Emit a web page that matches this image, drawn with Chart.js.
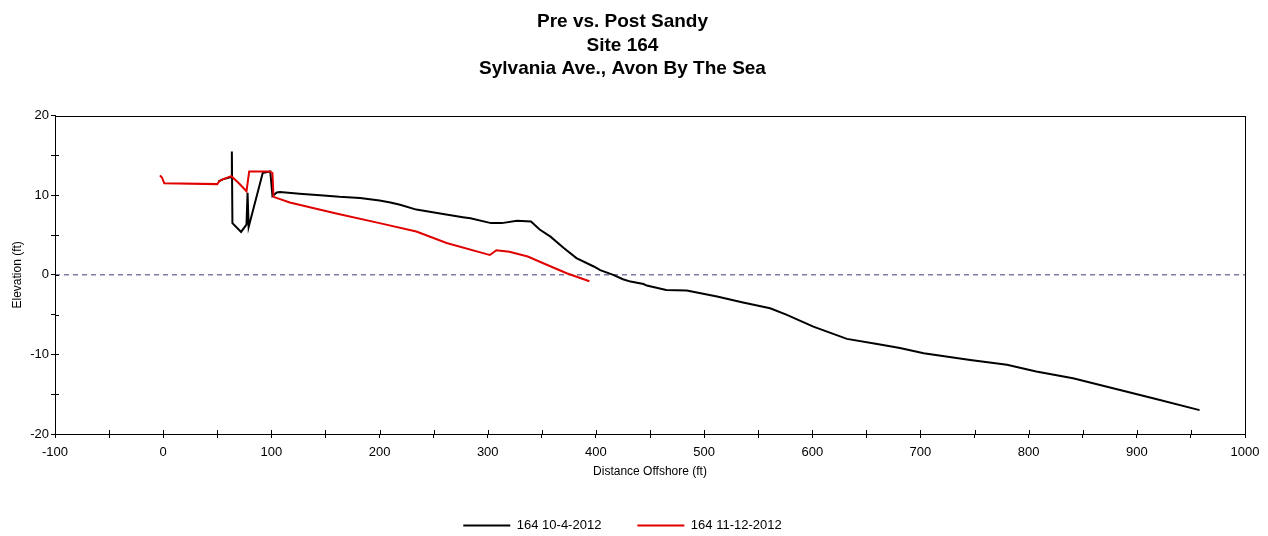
<!DOCTYPE html>
<html>
<head>
<meta charset="utf-8">
<script src="https://cdn.jsdelivr.net/npm/chart.js@4.4.0/dist/chart.umd.min.js"></script>
<style>
  html, body { margin: 0; padding: 0; background: #fff; }
  #wrap { width: 1268px; height: 536px; }
</style>
</head>
<body>
<div id="wrap"><canvas id="profileChart" width="1268" height="536"></canvas></div>
<script>
// 164 10-4-2012 (pre storm)
const preX = [51, 55, 63, 63.5, 64, 72, 77, 78, 79, 92, 99, 101, 105, 108, 126, 145, 163, 182, 200, 210,
    219, 234, 256, 277, 284, 303, 313, 327, 340, 348, 358, 370, 382, 398, 404, 416, 425, 432, 444, 447,
    465, 484, 512, 536, 561, 576, 601, 632, 660, 681, 703, 746, 780, 807, 841, 878, 915, 958];
const preY = [11.7, 12.0, 12.3, 15.5, 6.5, 5.4, 6.3, 10.3, 6.0, 12.8, 13.0, 9.9, 10.35, 10.4, 10.2, 10.0, 9.8, 9.65, 9.35, 9.1,
    8.8, 8.2, 7.7, 7.25, 7.1, 6.5, 6.5, 6.8, 6.7, 5.7, 4.8, 3.4, 2.1, 1.05, 0.6, 0, -0.55, -0.85, -1.15, -1.35,
    -1.9, -1.97, -2.73, -3.48, -4.2, -5.0, -6.5, -8.05, -8.68, -9.2, -9.85, -10.7, -11.3, -12.15, -13.0, -14.25, -15.5, -17.0];

// 164 11-12-2012 (post storm)
const postX = [-3, -1, 1, 50, 52, 55, 63, 70, 77, 79.5, 98.5, 101, 102, 117, 160, 200, 234, 262, 299, 302,
    308, 320, 337, 354, 373, 394];
const postY = [12.5, 12.2, 11.5, 11.4, 11.8, 12.0, 12.4, 11.5, 10.5, 13.0, 13.0, 12.8, 9.8, 9.1, 7.7, 6.5, 5.45, 4.0, 2.6, 2.5,
    3.1, 2.9, 2.3, 1.3, 0.2, -0.8];

const zeroX = [-100, 1000];
const zeroY = [0, 0];

const xTicks = [-100, 1000, 50];
const yTicks = [-20, 20, 5];

const toPoints = (xs, ys) => xs.map((v, i) => ({ x: v, y: ys[i] }));

// box round the plot area + ticks that cross the axes
const frame = {
    id: 'frame',
    afterDraw(chart) {
        const { ctx, chartArea: a, scales: { x, y } } = chart;
        ctx.save();
        ctx.strokeStyle = '#000';
        ctx.lineWidth = 1;
        ctx.strokeRect(Math.round(a.left) + 0.5, Math.round(a.top) + 0.5, Math.round(a.width), Math.round(a.height));
        ctx.beginPath();
        x.ticks.forEach(t => {
            const px = Math.round(x.getPixelForValue(t.value)) + 0.5;
            ctx.moveTo(px, a.bottom);
            ctx.lineTo(px, a.bottom - 4);
        });
        y.ticks.forEach(t => {
            const py = Math.round(y.getPixelForValue(t.value)) + 0.5;
            ctx.moveTo(a.left, py);
            ctx.lineTo(a.left + 4, py);
        });
        ctx.stroke();
        ctx.restore();
    }
};

Chart.defaults.font.family = "'Liberation Sans', Arial, sans-serif";
Chart.defaults.color = '#000';

const ctx = document.getElementById('profileChart').getContext('2d');
const profileChart = new Chart(ctx, {
    type: 'scatter',
    data: {
        datasets: [{
            label: '164 11-12-2012',
            data: toPoints(postX, postY),
            borderColor: '#e00000',
            backgroundColor: '#e00000',
            borderWidth: 2,
            showLine: true,
            pointRadius: 0,
            tension: 0,
            order: 0
        }, {
            label: '164 10-4-2012',
            data: toPoints(preX, preY),
            borderColor: '#000000',
            backgroundColor: '#000000',
            borderWidth: 2,
            showLine: true,
            pointRadius: 0,
            tension: 0,
            order: 1
        }, {
            label: 'zero',
            data: toPoints(zeroX, zeroY),
            borderColor: '#3c3c78',
            borderWidth: 1,
            borderDash: [5, 4],
            showLine: true,
            pointRadius: 0,
            order: 2
        }]
    },
    options: {
        responsive: false,
        animation: false,
        layout: {
            padding: { left: 0, right: 23, top: 0, bottom: -6 }
        },
        plugins: {
            title: {
                display: true,
                text: ['Pre vs. Post Sandy', 'Site 164', 'Sylvania Ave., Avon By The Sea'],
                color: '#000',
                font: { size: 19, weight: 'bold', lineHeight: 1.24 },
                padding: { top: 10, bottom: 35 }
            },
            legend: {
                position: 'bottom',
                reverse: true,
                labels: {
                    boxWidth: 47,
                    boxHeight: 2,
                    padding: 36,
                    color: '#000',
                    font: { size: 13 },
                    filter: item => item.text !== 'zero',
                    generateLabels(chart) {
                        return Chart.defaults.plugins.legend.labels.generateLabels(chart)
                            .map(l => Object.assign(l, { lineWidth: 0 }));
                    }
                }
            },
            tooltip: { enabled: false }
        },
        scales: {
            x: {
                type: 'linear',
                min: xTicks[0],
                max: xTicks[1],
                afterFit: s => { s.height = 49; },
                border: { display: true, color: '#000' },
                grid: { drawOnChartArea: false, drawTicks: true, tickLength: 4, color: '#000' },
                ticks: {
                    stepSize: xTicks[2],
                    autoSkip: false,
                    maxRotation: 0,
                    padding: 7,
                    color: '#000',
                    font: { size: 13 },
                    callback: v => (v % 100 === 0 ? v : '')
                },
                title: {
                    display: true,
                    text: 'Distance Offshore (ft)',
                    color: '#000',
                    font: { size: 12 },
                    padding: { top: 2, bottom: 4 }
                }
            },
            y: {
                type: 'linear',
                min: yTicks[0],
                max: yTicks[1],
                afterFit: s => { s.width = 55; },
                border: { display: true, color: '#000' },
                grid: { drawOnChartArea: false, drawTicks: true, tickLength: 4, color: '#000' },
                ticks: {
                    stepSize: yTicks[2],
                    autoSkip: false,
                    padding: 2,
                    color: '#000',
                    font: { size: 13 },
                    callback: v => (v % 10 === 0 ? v : '')
                },
                title: {
                    display: true,
                    text: 'Elevation (ft)',
                    color: '#000',
                    font: { size: 12 },
                    padding: { top: 10, bottom: 0 }
                }
            }
        }
    },
    plugins: [frame]
});
</script>
</body>
</html>
